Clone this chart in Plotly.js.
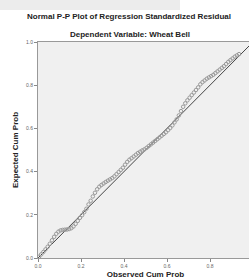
<!DOCTYPE html>
<html><head><meta charset="utf-8">
<script src="https://cdn.plot.ly/plotly-3.0.1.min.js"></script>
<style>html,body{margin:0;padding:0;overflow:hidden;background:#fff;width:249px;height:279px}</style>
</head><body><div id="chart"></div>
<script>
const chartTitle = "Normal P-P Plot of Regression Standardized Residual";
const subTitle = "Dependent Variable: Wheat Bell";
const xTitle = "Observed Cum Prob";
const yTitle = "Expected Cum Prob";
const xTickVals = [0, 0.2, 0.4, 0.6, 0.8];
const xTickText = ["0.0", "0.2", "0.4", "0.6", "0.8"];
const yTickVals = [0, 0.2, 0.4, 0.6, 0.8, 1.0];
const yTickText = ["0.0", "0.2", "0.4", "0.6", "0.8", "1.0"];
const diagX = [0, 1];
const diagY = [0, 1];
const observed = [0.005,0.015,0.025,0.035,0.045,0.055,0.065,0.075,0.085,0.095,0.105,0.115,0.125,0.135,0.145,0.155,0.165,0.175,0.185,0.195,0.205,0.215,0.225,0.235,0.245,0.255,0.265,0.275,0.285,0.295,0.305,0.315,0.325,0.335,0.345,0.355,0.365,0.375,0.385,0.395,0.405,0.415,0.425,0.435,0.445,0.455,0.465,0.475,0.485,0.495,0.505,0.515,0.525,0.535,0.545,0.555,0.565,0.575,0.585,0.595,0.605,0.615,0.625,0.635,0.645,0.655,0.665,0.675,0.685,0.695,0.705,0.715,0.725,0.735,0.745,0.755,0.765,0.775,0.785,0.795,0.805,0.815,0.825,0.835,0.845,0.855,0.865,0.875,0.885,0.895,0.905,0.915,0.925,0.935];
const expected = [0.006,0.017,0.028,0.040,0.052,0.066,0.082,0.098,0.112,0.122,0.128,0.130,0.131,0.132,0.134,0.138,0.146,0.158,0.172,0.186,0.198,0.212,0.228,0.248,0.265,0.285,0.302,0.318,0.330,0.338,0.345,0.352,0.358,0.364,0.370,0.378,0.388,0.398,0.408,0.418,0.432,0.445,0.455,0.462,0.470,0.478,0.486,0.492,0.498,0.503,0.510,0.518,0.526,0.534,0.542,0.550,0.558,0.566,0.574,0.582,0.592,0.602,0.614,0.628,0.642,0.660,0.680,0.700,0.716,0.730,0.742,0.754,0.766,0.778,0.790,0.804,0.814,0.822,0.830,0.836,0.842,0.848,0.856,0.864,0.872,0.880,0.888,0.898,0.908,0.916,0.924,0.932,0.938,0.944];

const font = "Liberation Sans, Arial, sans-serif";
const data = [
  {x: diagX, y: diagY, mode: "lines", type: "scatter", line: {color: "#444", width: 1}, hoverinfo: "skip"},
  {x: observed, y: expected, mode: "markers", type: "scatter",
   marker: {symbol: "circle-open", size: 3.5, color: "#999", line: {width: 1}}}
];
const axisBase = {range: [0, 1], ticks: "outside", ticklen: 3,
  tickcolor: "#888", showgrid: false, zeroline: false, showline: true, linecolor: "#999", linewidth: 1,
  mirror: true, tickfont: {size: 5, color: "#666", family: font}};
const layout = {
  width: 270, height: 279, showlegend: false,
  paper_bgcolor: "#fff", plot_bgcolor: "#f0f0f0",
  margin: {l: 38, r: 17, t: 42, b: 21},
  title: {text: "<b>" + chartTitle + "</b>", x: 129/270, xanchor: "center", y: 1 - 16/279, yanchor: "middle",
    font: {size: 8, color: "#222", family: font}},
  annotations: [
    {text: "<b>" + subTitle + "</b>", xref: "paper", yref: "paper", x: (130-38)/215, y: (258-34)/216,
     xanchor: "center", yanchor: "middle", showarrow: false, font: {size: 8, color: "#222", family: font}}
  ],
  xaxis: Object.assign({}, axisBase, {tickvals: xTickVals, ticktext: xTickText,
    title: {text: "<b>" + xTitle + "</b>", standoff: 4, font: {size: 8, color: "#222", family: font}}}),
  yaxis: Object.assign({}, axisBase, {tickvals: yTickVals, ticktext: yTickText,
    title: {text: "<b>" + yTitle + "</b>", standoff: 6, font: {size: 8, color: "#222", family: font}}}),
  shapes: [{type: "rect", xref: "paper", yref: "paper", x0: -38/215, x1: 142/215, y0: (258-10)/216, y1: (258-0)/216 + 0.01,
    fillcolor: "#ececec", line: {width: 0}, layer: "below"}]
};
Plotly.newPlot("chart", data, layout, {displayModeBar: false, staticPlot: true});
</script></body></html>
